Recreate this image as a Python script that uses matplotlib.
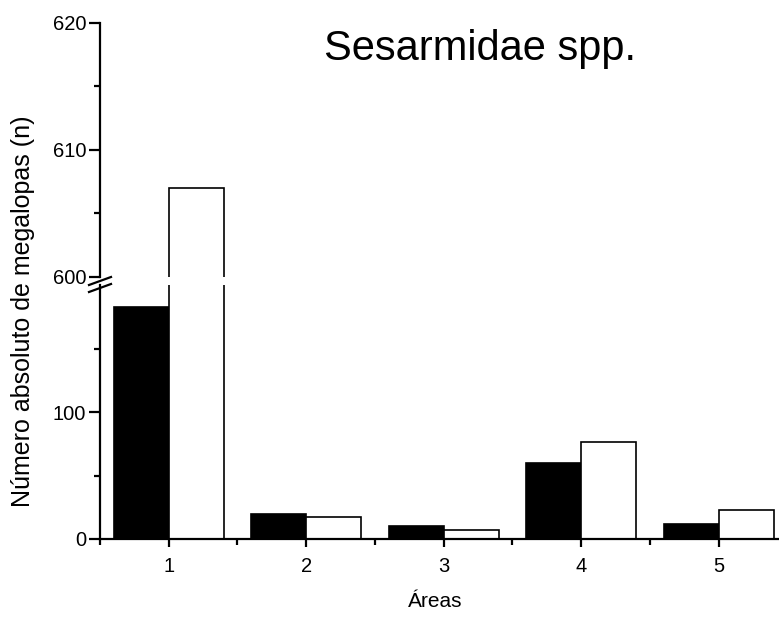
import matplotlib
matplotlib.use("Agg")
import matplotlib.pyplot as plt
import numpy as np
from matplotlib.lines import Line2D

plt.rcParams['font.family'] = ['Liberation Sans', 'DejaVu Sans']

areas = [1, 2, 3, 4, 5]
tick_labels = ['1', '2', '3', '4', '5']
serie_preta = [183, 20, 10, 60, 12]
serie_branca = [607, 17, 7, 76, 23]
title = 'Sesarmidae spp.'
ylabel = 'Número absoluto de megalopas (n)'
xlabel = 'Áreas'

W, H = 779, 621
fig = plt.figure(figsize=(W/100, H/100), dpi=100)

left = 100/W
right = 1.0
ax_low = fig.add_axes([left, (H-539)/H, right-left, 254/H])
ax_up = fig.add_axes([left, (H-277)/H, right-left, 254/H])

x = np.array(areas, dtype=float)
bw = 0.4
for ax in (ax_low, ax_up):
    ax.bar(x - bw/2, serie_preta, width=bw, color='black', edgecolor='black', linewidth=1.2)
    ax.bar(x + bw/2, serie_branca, width=bw, color='white', edgecolor='black', linewidth=1.2)
    ax.set_xlim(0.5, 5.44)
    ax.spines['top'].set_visible(False)
    ax.spines['right'].set_visible(False)
    for s in ax.spines.values():
        s.set_linewidth(1.6)
    ax.tick_params(which='major', direction='out', length=8, width=1.6, labelsize=14.5, pad=2)
    ax.tick_params(which='minor', direction='out', length=4, width=1.6)

ax_low.set_ylim(0, 200)
ax_low.set_yticks([0, 100])
ax_low.set_yticks([50, 150], minor=True)
ax_low.set_xticks(areas)
ax_low.set_xticklabels(tick_labels)
ax_low.set_xticks([0.5, 1.5, 2.5, 3.5, 4.5], minor=True)
ax_low.tick_params(axis='x', which='major', length=6, pad=7)

ax_up.set_ylim(600, 620)
ax_up.set_yticks([600, 610, 620])
ax_up.set_yticks([605, 615], minor=True)
ax_up.spines['bottom'].set_visible(False)
ax_up.set_xticks([])
ax_up.set_xticks([], minor=True)
ax_up.patch.set_alpha(0)
ax_low.patch.set_alpha(0)

# break marks
xb = 100
for yb in (281, 288):
    fig.add_artist(Line2D([(xb-11)/W, (xb+11)/W], [(H-(yb+4))/H, (H-(yb-4))/H],
                          color='black', linewidth=1.6))

fig.text(480/W, 1-60/H, title, ha='center', va='baseline', fontsize=30)
fig.text(23/W, 1-311/H, ylabel, ha='center', va='center', rotation=90, fontsize=18)
fig.text(435/W, 1-607/H, xlabel, ha='center', va='baseline', fontsize=15)

fig.savefig('out.png', dpi=100)
